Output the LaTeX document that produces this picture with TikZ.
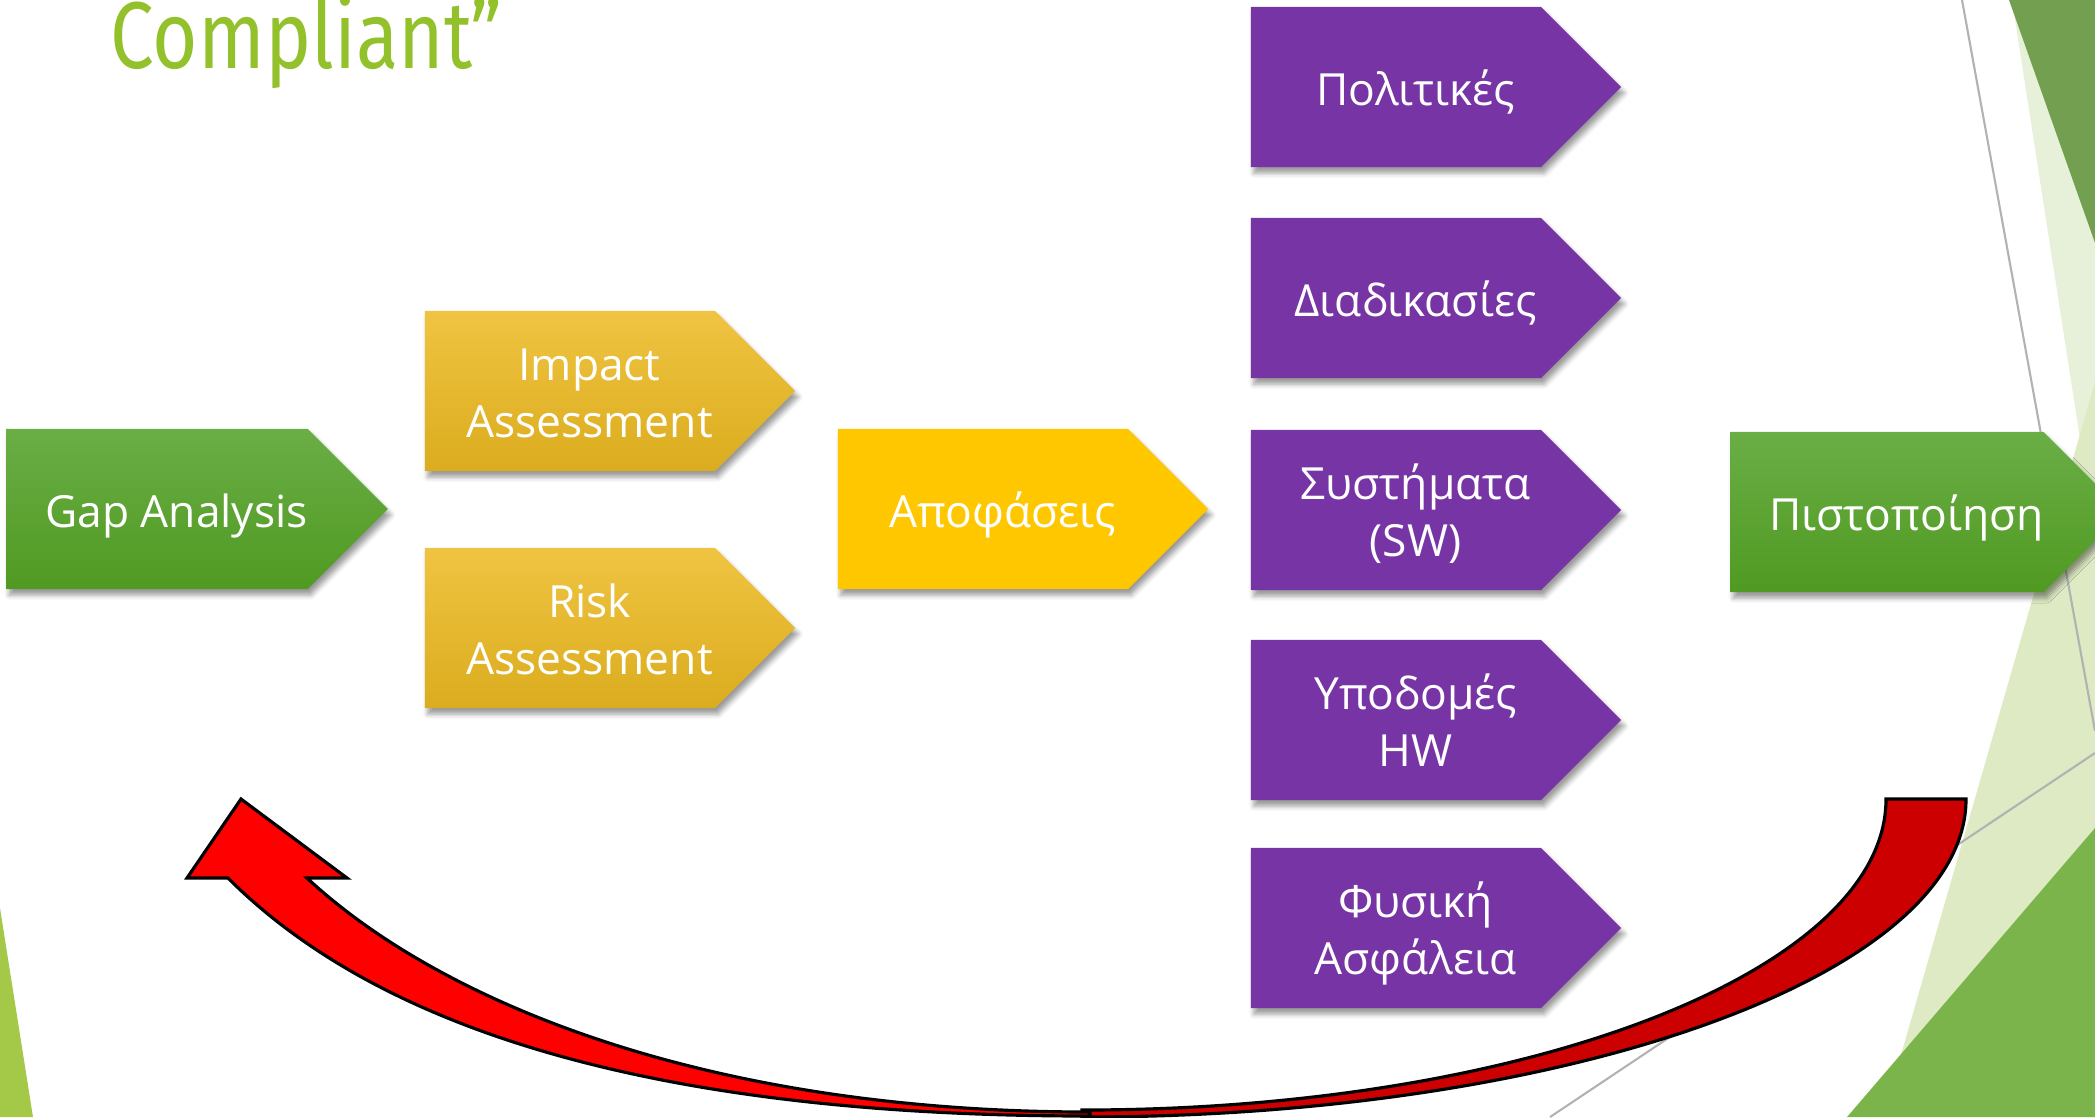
\documentclass[tikz,border=0pt]{standalone}
\usepackage{fontspec}
\setmainfont{Open Sans}
\newfontfamily\titlefont{Fira Sans}
\usetikzlibrary{shapes.symbols,shadows.blur}

\definecolor{titlegreen}{RGB}{146,193,43}
\definecolor{greentop}{RGB}{106,174,70}
\definecolor{greenbot}{RGB}{80,154,34}
\definecolor{goldtop}{RGB}{240,196,66}
\definecolor{goldbot}{RGB}{219,172,30}
\definecolor{decideyellow}{RGB}{255,199,0}
\definecolor{stepviolet}{RGB}{119,52,165}
\definecolor{loopred}{RGB}{255,0,0}
\definecolor{loopdark}{RGB}{204,0,0}
\definecolor{bgdark}{RGB}{114,159,80}
\definecolor{bgpale}{RGB}{231,240,216}
\definecolor{bglight}{RGB}{221,234,195}
\definecolor{bgmid}{RGB}{123,180,75}
\definecolor{bgleft}{RGB}{164,201,72}

\newcommand{\boxtext}[1]{\hspace*{3.9mm}\raisebox{0pt}[\dimexpr\height+1.4mm\relax][\depth]{\begin{tabular}{@{}c@{}}#1\end{tabular}}}

\tikzset{
	chev/.style={signal, signal to=east, signal pointer angle=90,
		minimum width=3.7cm, minimum height=1.6cm, inner sep=0pt,
		text=white, font=\fontsize{12.6}{16.2}\selectfont,
		blur shadow={shadow xshift=0.3mm, shadow yshift=-0.6mm, shadow blur radius=0.5mm, shadow opacity=40}},
	greenbox/.style={chev, top color=greentop, bottom color=greenbot},
	goldbox/.style={chev, top color=goldtop, bottom color=goldbot},
	decidebox/.style={chev, fill=decideyellow},
	violetbox/.style={chev, fill=stepviolet},
	thinline/.style={gray!60, line width=0.6pt},
	loop/.style={draw=black, line width=0.9pt, line join=miter}
}

\begin{document}
\begin{tikzpicture}[x=0.01cm, y=-0.01cm]
	\useasboundingbox (0,0) rectangle (2095,1117);
	\clip (0,0) rectangle (2095,1117);

	\fill[bgpale] (2012,0) -- (2095,0) -- (2095,536) -- cycle;
	\fill[bgdark] (2009,0) -- (2095,0) -- (2095,243) -- cycle;
	\fill[bglight] (2095,382) -- (1883,1117) -- (2095,1117) -- cycle;
	\fill[bgmid] (2095,828) -- (1847,1117) -- (2095,1117) -- cycle;
	\fill[bgleft] (0,908) -- (33,1117) -- (0,1117) -- cycle;
	\draw[thinline] (1962,0) -- (2095,731);
	\draw[thinline] (1550,1117) -- (2095,753);

	\node (title) [anchor=base west, inner sep=0pt, text=titlegreen, font=\titlefont\fontsize{27}{32}\selectfont] at (110,68) {\scalebox{0.82}[1]{Compliant”}};

	\node (gap) [greenbox] at (157,509) {\boxtext{Gap Analysis}};
	\node (impact) [goldbox] at (570,391) {\boxtext{Impact\\Assessment}};
	\node (risk) [goldbox] at (570,628) {\boxtext{Risk\\Assessment}};
	\node (decide) [decidebox] at (983,509) {\boxtext{Αποφάσεις}};

	\node (pol) [violetbox] at (1396,87) {\boxtext{Πολιτικές}};
	\node (proc) [violetbox] at (1396,298) {\boxtext{Διαδικασίες}};
	\node (sys) [violetbox] at (1396,510) {\boxtext{Συστήματα\\(SW)}};
	\node (infra) [violetbox] at (1396,720) {\boxtext{Υποδομές\\HW}};
	\node (phys) [violetbox] at (1396,928) {\boxtext{Φυσική\\Ασφάλεια}};

	\node (cert) [greenbox] at (1887,512) {\boxtext{Πιστοποίηση}};

	\filldraw[loop, fill=loopdark] (1886,799) -- (1966,799) .. controls (1966,975) and (1570,1117) .. (1082,1117)
		-- (1082,1110) .. controls (1526,1110) and (1886,971) .. (1886,799) -- cycle;
	\filldraw[loop, fill=loopred] (241,799) -- (347,878) -- (307,878) .. controls (437,999) and (700,1112) .. (1090,1112)
		-- (1090,1116) .. controls (650,1116) and (378,1028) .. (228,878) -- (187,878) -- cycle;
\end{tikzpicture}
\end{document}
